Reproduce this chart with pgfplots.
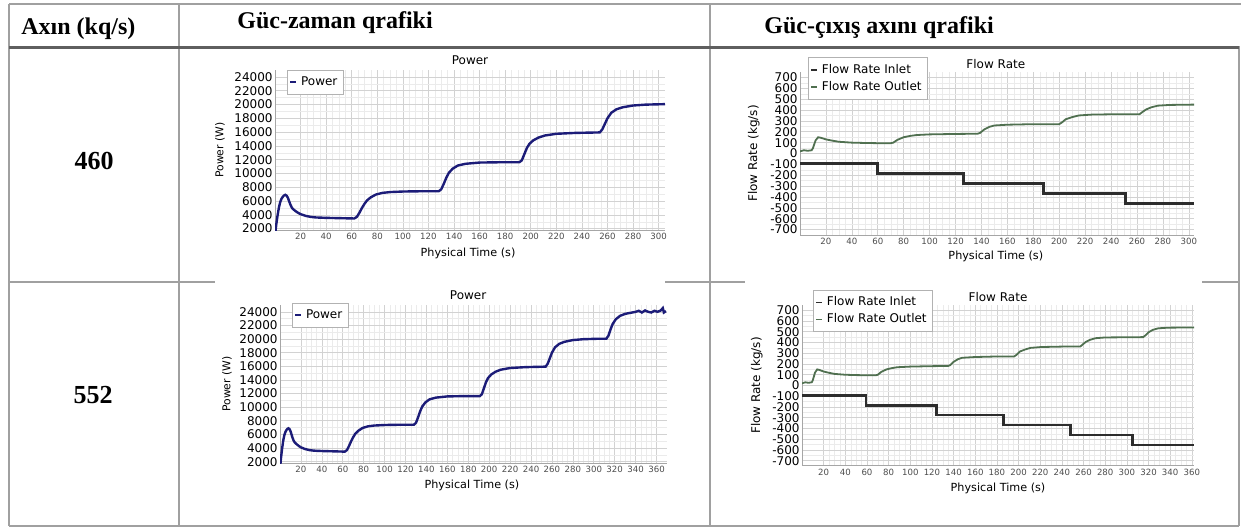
\documentclass[border=0pt]{standalone}
\usepackage{fontspec}
\setmainfont{Liberation Serif}
\newfontfamily\chartfont{DejaVu Sans}
\usepackage{pgfplots}
\pgfplotsset{compat=1.18}
\definecolor{powerblue}{RGB}{28,28,120}
\definecolor{inletgray}{RGB}{45,45,45}
\definecolor{outletgreen}{RGB}{80,112,80}
\definecolor{tablegray}{RGB}{160,160,160}
\definecolor{headgray}{RGB}{95,95,95}

\pgfplotsset{
  every axis title shift=0pt,
  simchart/.style={
    scale only axis,
    scaled y ticks=false, scaled x ticks=false,
    axis x line*=bottom, axis y line*=left,
    axis line style={-, gray!70, line width=0.4pt},
    grid=both,
    major grid style={gray!35, line width=0.3pt},
    minor grid style={gray!16, line width=0.2pt},
    minor x tick num=3, minor y tick num=1,
    major tick length=0pt, minor tick length=0pt,
    /pgf/number format/1000 sep={},
    /pgf/number format/assume math mode=true,
    yticklabel style={font=\chartfont\fontsize{6}{6}\selectfont, inner sep=1pt},
    xticklabel style={font=\chartfont\fontsize{4.3}{4.3}\selectfont, text=black!70, inner sep=1.5pt},
    title style={font=\chartfont\fontsize{6}{7}\selectfont, anchor=center},
    xlabel style={font=\chartfont\fontsize{5.6}{6}\selectfont, anchor=center},
    ylabel style={font=\chartfont\fontsize{5.4}{6}\selectfont, anchor=center},
    legend style={font=\chartfont\fontsize{6}{7}\selectfont, draw=gray!60, fill=white, inner sep=1pt, row sep=-1.5pt, cells={anchor=west}},
    legend image code/.code={\draw[#1,line width=0.8pt] (0pt,0pt) -- (3pt,0pt);},
    legend cell align=left,
  },
}

\begin{document}
\begin{tikzpicture}
\useasboundingbox (0,0) rectangle (620.5pt,-265.5pt);

% ---------- table ----------
\draw[tablegray, line width=0.6pt] (4.5pt,-2pt) -- (620.5pt,-2pt);
\draw[tablegray, line width=0.6pt] (4.5pt,-2pt) -- (4.5pt,-263pt);
\draw[tablegray, line width=0.6pt] (89.5pt,-2pt) -- (89.5pt,-263pt);
\draw[tablegray, line width=0.6pt] (355pt,-2pt) -- (355pt,-263pt);
\draw[tablegray, line width=0.6pt] (619.5pt,-23pt) -- (619.5pt,-263pt);
\draw[tablegray, line width=0.6pt] (4.5pt,-263pt) -- (619.5pt,-263pt);
\draw[tablegray, line width=0.6pt] (4.5pt,-141pt) -- (107.5pt,-141pt);
\draw[tablegray, line width=0.6pt] (332.5pt,-141pt) -- (372.5pt,-141pt);
\draw[tablegray, line width=0.6pt] (601pt,-141pt) -- (619.5pt,-141pt);
\draw[headgray, line width=1.8pt] (4.5pt,-23.75pt) -- (619.5pt,-23.75pt);

\node[anchor=base west, inner sep=0pt, font=\fontsize{12}{14}\selectfont\bfseries] at (10.5pt,-17pt) {Axın (kq/s)};
\node[anchor=base west, inner sep=0pt, font=\fontsize{12}{14}\selectfont\bfseries] at (118.5pt,-14pt) {Güc-zaman qrafiki};
\node[anchor=base west, inner sep=0pt, font=\fontsize{12}{14}\selectfont\bfseries] at (382pt,-16.5pt) {Güc-çıxış axını qrafiki};
\node[inner sep=0pt, font=\fontsize{13}{15}\selectfont\bfseries] at (47pt,-80.5pt) {460};
\node[inner sep=0pt, font=\fontsize{13}{15}\selectfont\bfseries] at (46.5pt,-197.5pt) {552};

% ---------- Power, 460 ----------
\begin{axis}[simchart,
  at={(137.5pt,-115pt)}, anchor=south west, width=195pt, height=80pt,
  xmin=0, xmax=305, ymin=1800, ymax=25000,
  xtick={20,40,...,300}, ytick={2000,4000,...,24000},
  title={Power}, title style={at={(0.5,1.0625)}},
  xlabel={Physical Time (s)}, xlabel style={at={(0.495,-0.144)}},
  ylabel={Power (W)}, ylabel style={at={(-0.141,0.5)}},
  legend style={at={(0.031,1.0)}, anchor=north west},
]
\addplot[powerblue, line width=1.2pt] coordinates {
(0,1000) (1,2600) (2,3900) (3,5000) (4,5800) (5,6300) (6,6600) (7,6800) (8,6900) (9,6800)
(10,6500) (11,6000) (12,5500) (13,5100) (14,4850) (16,4550) (18,4300) (20,4100) (24,3850)
(28,3700) (32,3620) (40,3560) (50,3520) (60,3480) (62,3470) (64,3700) (66,4300) (68,5000)
(70,5600) (72,6100) (75,6550) (79,6950) (84,7180) (90,7300) (100,7380) (115,7420) (128,7420)
(130,7700) (132,8500) (134,9400) (136,10100) (139,10700) (143,11150) (149,11400) (160,11580)
(175,11620) (191,11620) (193,11900) (195,12800) (197,13700) (199,14300) (202,14800) (206,15200)
(211,15500) (220,15750) (235,15880) (254,15950) (256,16400) (258,17200) (260,18000) (263,18800)
(267,19300) (272,19600) (280,19850) (290,19980) (305,20050)
};
\addlegendentry{Power}
\end{axis}

% ---------- Flow, 460 ----------
\begin{axis}[simchart,
  at={(400pt,-117.5pt)}, anchor=south west, width=197pt, height=81.5pt,
  xmin=0, xmax=304, ymin=-750, ymax=750,
  xtick={20,40,...,300}, ytick={-700,-600,...,700},
  title={Flow Rate}, title style={at={(0.497,1.052)}},
  xlabel={Physical Time (s)}, xlabel style={at={(0.497,-0.133)}},
  ylabel={Flow Rate (kg/s)}, ylabel style={at={(-0.117,0.5)}, font=\chartfont\fontsize{6}{6}\selectfont},
  legend style={at={(0.02,1.089)}, anchor=north west},
]
\addplot[inletgray, line width=1.3pt, const plot] coordinates {
(0,-92) (60,-184) (126,-276) (188,-368) (251,-460) (304,-460)
};
\addlegendentry{Flow Rate Inlet}
\addplot[outletgreen, line width=0.9pt] coordinates {
(0,20) (3,30) (6,25) (9,30) (10,50) (12,120) (14,150) (16,145) (20,130) (25,118) (30,108)
(40,100) (50,97) (60,95) (70,95) (72,100) (75,125) (80,150) (85,162) (90,170) (100,176)
(120,180) (137,182) (139,190) (142,220) (146,245) (150,258) (160,265) (180,270) (200,270)
(202,285) (205,315) (210,335) (215,350) (225,358) (245,362) (262,362) (264,380) (267,405)
(271,425) (276,440) (285,447) (304,450)
};
\addlegendentry{Flow Rate Outlet}
\end{axis}

% ---------- Power, 552 ----------
\begin{axis}[simchart,
  at={(140pt,-231.5pt)}, anchor=south west, width=193.5pt, height=79pt,
  xmin=0, xmax=370, ymin=1800, ymax=25000,
  xtick={20,40,...,360}, ytick={2000,4000,...,24000},
  title={Power}, title style={at={(0.486,1.063)}},
  xlabel={Physical Time (s)}, xlabel style={at={(0.496,-0.139)}},
  ylabel={Power (W)}, ylabel style={at={(-0.137,0.5)}},
  legend style={at={(0.031,1.013)}, anchor=north west},
]
\addplot[powerblue, line width=1.2pt] coordinates {
(0,1000) (1,2600) (2,3900) (3,5000) (4,5800) (5,6300) (6,6600) (7,6800) (8,6900) (9,6800)
(10,6500) (11,6000) (12,5500) (13,5100) (14,4850) (16,4550) (18,4300) (20,4100) (24,3850)
(28,3700) (32,3620) (40,3560) (50,3520) (60,3480) (62,3470) (64,3700) (66,4300) (68,5000)
(70,5600) (72,6100) (75,6550) (79,6950) (84,7180) (90,7300) (100,7380) (115,7420) (128,7420)
(130,7700) (132,8500) (134,9400) (136,10100) (139,10700) (143,11150) (149,11400) (160,11580)
(175,11620) (191,11620) (193,11900) (195,12800) (197,13700) (199,14300) (202,14800) (206,15200)
(211,15500) (220,15750) (235,15880) (254,15950) (256,16400) (258,17200) (260,18000) (263,18800)
(267,19300) (272,19600) (280,19850) (290,19980) (305,20050) (312,20050) (314,20500) (316,21400)
(318,22200) (321,22900) (325,23400) (330,23700) (335,23850) (340,24000) (343,24150) (346,23900)
(349,24200) (352,24000) (355,23900) (358,24150) (361,24000) (364,24200) (366,24550) (367,23900)
(369,24100)
};
\addlegendentry{Power}
\end{axis}

% ---------- Flow, 552 ----------
\begin{axis}[simchart,
  at={(401pt,-232.8pt)}, anchor=south west, width=196pt, height=80.1pt,
  xmin=0, xmax=362, ymin=-745, ymax=745,
  xtick={20,40,...,360}, ytick={-700,-600,...,700},
  title={Flow Rate}, title style={at={(0.5,1.052)}},
  xlabel={Physical Time (s)}, xlabel style={at={(0.5,-0.14)}},
  ylabel={Flow Rate (kg/s)}, ylabel style={at={(-0.115,0.5)}, font=\chartfont\fontsize{6}{6}\selectfont},
  legend style={at={(0.028,1.096)}, anchor=north west},
]
\addplot[inletgray, line width=1.3pt, const plot] coordinates {
(0,-92) (59,-184) (124,-276) (186,-368) (248,-460) (305,-552) (362,-552)
};
\addlegendentry{Flow Rate Inlet}
\addplot[outletgreen, line width=0.9pt] coordinates {
(0,20) (3,30) (6,25) (9,30) (10,50) (12,120) (14,150) (16,145) (20,130) (25,118) (30,108)
(40,100) (50,97) (60,95) (68,95) (70,100) (73,125) (78,150) (83,162) (88,170) (100,176)
(120,180) (135,182) (137,190) (140,220) (144,245) (148,258) (160,265) (180,270) (196,270)
(198,285) (201,315) (206,335) (211,350) (221,358) (240,362) (257,362) (259,380) (262,405)
(266,425) (271,440) (280,447) (315,450) (317,465) (320,495) (324,518) (329,532) (338,538)
(362,540)
};
\addlegendentry{Flow Rate Outlet}
\end{axis}
\end{tikzpicture}
\end{document}
